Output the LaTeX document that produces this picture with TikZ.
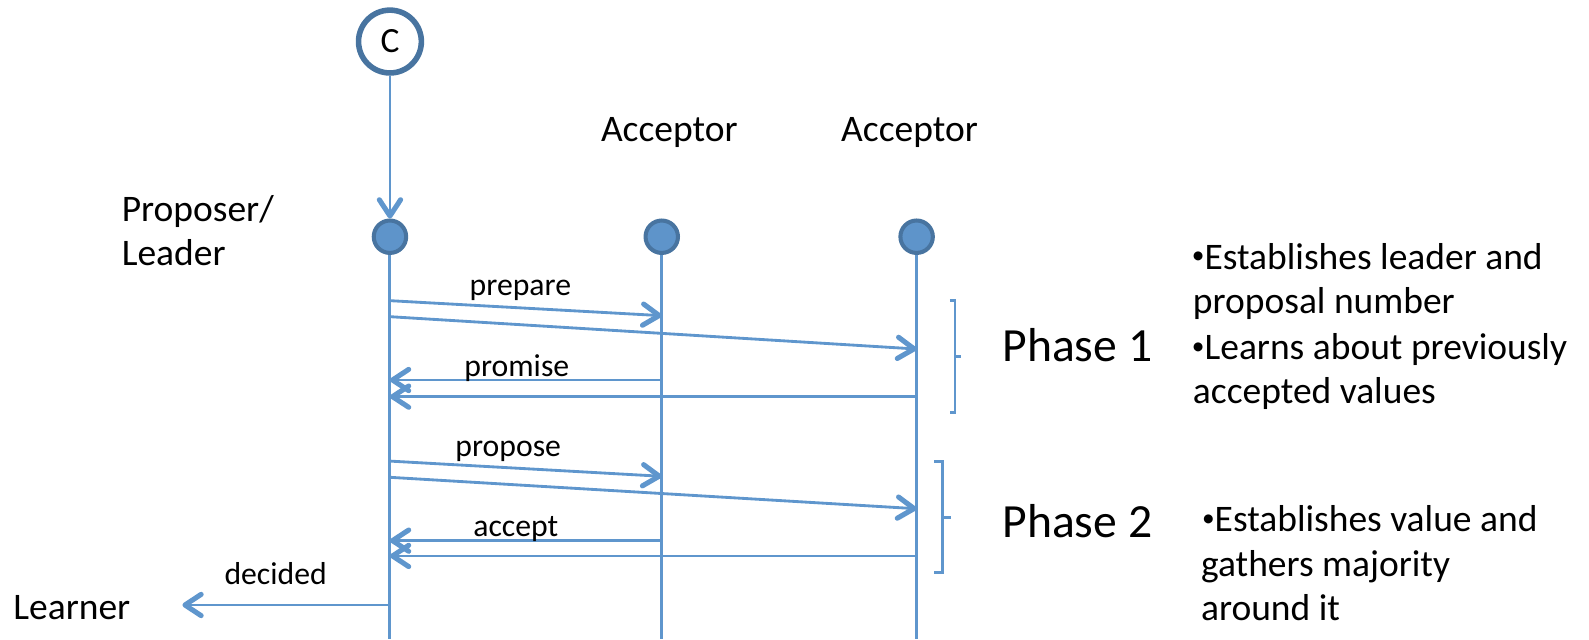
\documentclass[tikz,border=0pt]{standalone}
\usepackage{fontspec}
\setmainfont{Carlito}
\usetikzlibrary{arrows.meta}

\definecolor{msgblue}{RGB}{95,150,205}
\definecolor{ringblue}{RGB}{72,116,160}
\definecolor{dotblue}{RGB}{94,148,202}

% small raised bullet for the notes
\newcommand{\notebullet}{\raisebox{5pt}{\fontsize{25}{25}\selectfont •}}

\begin{document}
\begin{tikzpicture}[x=1pt,y=-1pt,
  msg/.style={draw=msgblue, line width=2.8pt,
    -{Straight Barb[length=16pt,width=21pt,line width=5pt,round]}},
  life/.style={draw=msgblue, line width=3pt},
  bracket/.style={draw=msgblue, line width=2.8pt},
  lifedot/.style={circle, fill=dotblue, draw=ringblue, line width=4pt,
    minimum size=32pt, inner sep=0pt},
  client/.style={circle, fill=white, draw=ringblue, line width=5.5pt,
    minimum size=62pt, inner sep=0pt, font=\fontsize{35}{40}\selectfont},
  role/.style={font=\fontsize{37}{44}\selectfont, inner sep=0pt},
  lbl/.style={font=\fontsize{31.3}{37}\selectfont, inner sep=0pt, anchor=base},
  phase/.style={font=\fontsize{47}{56}\selectfont, inner sep=0pt, anchor=base west},
  note/.style={font=\fontsize{37}{44}\selectfont, inner sep=0pt, anchor=base west}
]
\useasboundingbox (0,0) rectangle (1568,631);

% participants
\node[client] (c) at (384.8,41) {C};
\node[lifedot] (prop) at (384.8,233.6) {};
\node[lifedot] (acc1) at (653,233.6) {};
\node[lifedot] (acc2) at (904.5,233.6) {};

\node[role, anchor=base] (acclbl1) at (660.5,140) {Acceptor};
\node[role, anchor=base] (acclbl2) at (897.5,140) {Acceptor};
\node[role, anchor=base west] (proplbl1) at (120,218.4) {Proposer/};
\node[role, anchor=base west] (proplbl2) at (120,262) {Leader};
\node[role, anchor=base west] (learner) at (13,611) {Learner};

% lifelines
\coordinate (pend) at (384.8,631);
\coordinate (a1end) at (653,631);
\coordinate (a2end) at (904.5,631);
\draw[life] (prop.south) -- (pend);
\draw[life] (acc1.south) -- (a1end);
\draw[life] (acc2.south) -- (a2end);

% client request
\draw[msg] (c.south) -- (prop.north);

% message end points on the lifelines
\coordinate (prepPa) at (384.8,296.7);  \coordinate (prepA1) at (653,311.5);
\coordinate (prepPb) at (384.8,312.5);  \coordinate (prepA2) at (904.5,344.4);
\coordinate (promA1) at (653,375);      \coordinate (promPa) at (384.8,375);
\coordinate (promA2) at (904.5,391.4);  \coordinate (promPb) at (384.8,391.4);
\coordinate (propPa) at (384.8,455);    \coordinate (propA1) at (653,470);
\coordinate (propPb) at (384.8,471);    \coordinate (propA2) at (904.5,502);
\coordinate (accA1) at (653,533.5);     \coordinate (accPa) at (384.8,533.5);
\coordinate (accA2) at (904.5,548.6);   \coordinate (accPb) at (384.8,548.6);
\coordinate (decP) at (384.8,597);      \coordinate (decL) at (180,597);

% phase 1
\draw[msg] (prepPa) -- (prepA1);
\draw[msg] (prepPb) -- (prepA2);
\draw[msg] (promA1) -- (promPa);
\draw[msg] (promA2) -- (promPb);
% phase 2
\draw[msg] (propPa) -- (propA1);
\draw[msg] (propPb) -- (propA2);
\draw[msg] (accA1) -- (accPa);
\draw[msg] (accA2) -- (accPb);
% outcome
\draw[msg] (decP) -- (decL);

% message labels
\node[lbl] (lprep) at (513.5,292) {prepare};
\node[lbl] (lprom) at (510,372) {promise};
\node[lbl] (lprop) at (501.5,450) {propose};
\node[lbl] (lacc) at (509,529) {accept};
\node[lbl] (ldec) at (272,577) {decided};

% phase brackets
\draw[bracket] (937.4,296.7) -- (942.4,296.7) -- (942.4,407) -- (937.4,407);
\draw[bracket] (942.4,352) -- (948,352);
\draw[bracket] (922,455.6) -- (930,455.6) -- (930,565) -- (922,565);
\draw[bracket] (930,510.5) -- (938,510.5);

\node[phase] (ph1) at (989,357) {Phase 1};
\node[phase] (ph2) at (989,530.5) {Phase 2};

% phase notes
\node[note] (n1a) at (1176,265.5) {\notebullet Establishes leader and};
\node[note] (n1b) at (1177,309) {proposal number};
\node[note] (n1c) at (1176,355) {\notebullet Learns about previously};
\node[note] (n1d) at (1177,398.5) {accepted values};
\node[note] (n2a) at (1186,524.7) {\notebullet Establishes value and};
\node[note] (n2b) at (1185,569) {gathers majority};
\node[note] (n2c) at (1185,612) {around it};
\end{tikzpicture}
\end{document}
